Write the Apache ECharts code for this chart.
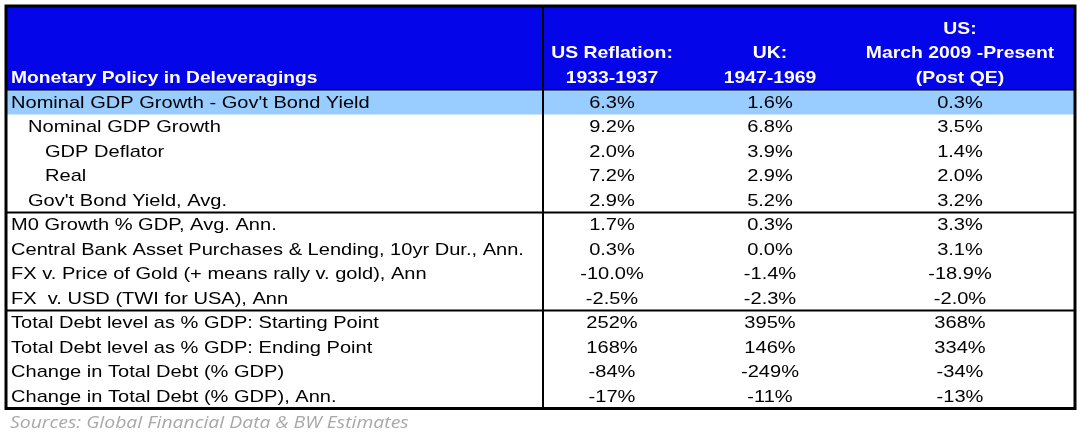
<!DOCTYPE html>
<html><head><meta charset="utf-8">
<script src="https://cdn.jsdelivr.net/npm/echarts@6/dist/echarts.min.js"></script>
<style>html,body{margin:0;padding:0;background:#fff}#c{width:1080px;height:441px}</style>
</head><body><div id="c"></div>
<script>
var title = "Monetary Policy in Deleveragings";
var columnHeaders = [["US Reflation:","1933-1937"],["UK:","1947-1969"],["US:","March 2009 -Present","(Post QE)"]];
var rowLabels = ["Nominal GDP Growth - Gov't Bond Yield","Nominal GDP Growth","GDP Deflator","Real","Gov't Bond Yield, Avg.",
 "M0 Growth % GDP, Avg. Ann.","Central Bank Asset Purchases & Lending, 10yr Dur., Ann.","FX v. Price of Gold (+ means rally v. gold), Ann","FX  v. USD (TWI for USA), Ann",
 "Total Debt level as % GDP: Starting Point","Total Debt level as % GDP: Ending Point","Change in Total Debt (% GDP)","Change in Total Debt (% GDP), Ann."];
var rowIndent = [0,1,2,2,1,0,0,0,0,0,0,0,0];
var usReflation = ["6.3%","9.2%","2.0%","7.2%","2.9%","1.7%","0.3%","-10.0%","-2.5%","252%","168%","-84%","-17%"];
var uk = ["1.6%","6.8%","3.9%","2.9%","5.2%","0.3%","0.0%","-1.4%","-2.3%","395%","146%","-249%","-11%"];
var usQE = ["0.3%","3.5%","1.4%","2.0%","3.2%","3.3%","3.1%","-18.9%","-2.0%","368%","334%","-34%","-13%"];
var source = "Sources: Global Financial Data & BW Estimates";

var L=6, R=1075, T=6, HB=90, RH=24.5, DIV=543;
var colX=[612,770,960], indentPx=[11,28,45];
var chart = echarts.init(document.getElementById('c'));
var cols=[usReflation,uk,usQE];
function txt(p,text,font,fill,align,sx){
  return {type:'text',x:p[0],y:p[1],scaleX:sx,style:{x:0,y:0,text:text,fill:fill,font:font,align:align||'left',verticalAlign:'middle'}};
}
function render(params, api){
  var i = api.value(0);
  var ch=[];
  var font='17px "Liberation Sans", Arial, sans-serif';
  if(i<0){
    var p0=api.coord([L,T]), p1=api.coord([R,HB]);
    ch.push({type:'rect',shape:{x:p0[0],y:p0[1],width:p1[0]-p0[0],height:p1[1]-p0[1]},style:{fill:'#0505ea'}});
    var bf='bold 17px "Liberation Sans", Arial, sans-serif';
    ch.push(txt(api.coord([11,78]),title,bf,'#fff','left',1.13));
    columnHeaders.forEach(function(h,c){
      var n=h.length;
      h.forEach(function(line,k){
        ch.push(txt(api.coord([colX[c],78-(n-1-k)*24.5]),line,bf,'#fff','center',1.14));
      });
    });
    ch.push(txt(api.coord([10,423]),source,'italic 17px "Open Sans", sans-serif','#a8a8a8','left',1.14));
    var dv0=api.coord([DIV,T]), dv1=api.coord([DIV,HB+RH*13]);
    ch.push({type:'line',shape:{x1:dv0[0],y1:dv0[1],x2:dv1[0],y2:dv1[1]},style:{stroke:'#000',lineWidth:2}});
    [5,9].forEach(function(r){var a=api.coord([L,HB+RH*r]),b=api.coord([R,HB+RH*r]);
      ch.push({type:'line',shape:{x1:a[0],y1:a[1],x2:b[0],y2:b[1]},style:{stroke:'#000',lineWidth:2}});});
    var a=api.coord([L,HB]),b=api.coord([R,HB]);
    ch.push({type:'line',shape:{x1:a[0],y1:a[1],x2:b[0],y2:b[1]},style:{stroke:'#000',lineWidth:1}});
    var o0=api.coord([L,T]),o1=api.coord([R,HB+RH*13]);
    ch.push({type:'rect',shape:{x:o0[0],y:o0[1],width:o1[0]-o0[0],height:o1[1]-o0[1]},style:{fill:null,stroke:'#000',lineWidth:3}});
    return {type:'group',children:ch};
  }
  var y0=HB+RH*i, yc=y0+RH/2+1;
  if(i===0){var a0=api.coord([L,y0]),a1=api.coord([R,y0+RH]);
    ch.push({type:'rect',shape:{x:a0[0],y:a0[1],width:a1[0]-a0[0],height:a1[1]-a0[1]},style:{fill:'#99ccff'}});}
  ch.push(txt(api.coord([indentPx[rowIndent[i]],yc]),rowLabels[i],font,'#000','left',1.18));
  cols.forEach(function(arr,c){
    ch.push(txt(api.coord([colX[c],yc]),arr[i],font,'#000','center',1.18));});
  return {type:'group',children:ch};
}
var data=[]; for(var i=0;i<rowLabels.length;i++) data.push([i]);
data.push([-1]);
chart.setOption({
  animation:false,
  grid:{left:0,right:0,top:0,bottom:0},
  xAxis:{type:'value',min:0,max:1080,show:false},
  yAxis:{type:'value',min:0,max:441,inverse:true,show:false},
  series:[{type:'custom',renderItem:render,data:data,clip:false}]
});
</script></body></html>
